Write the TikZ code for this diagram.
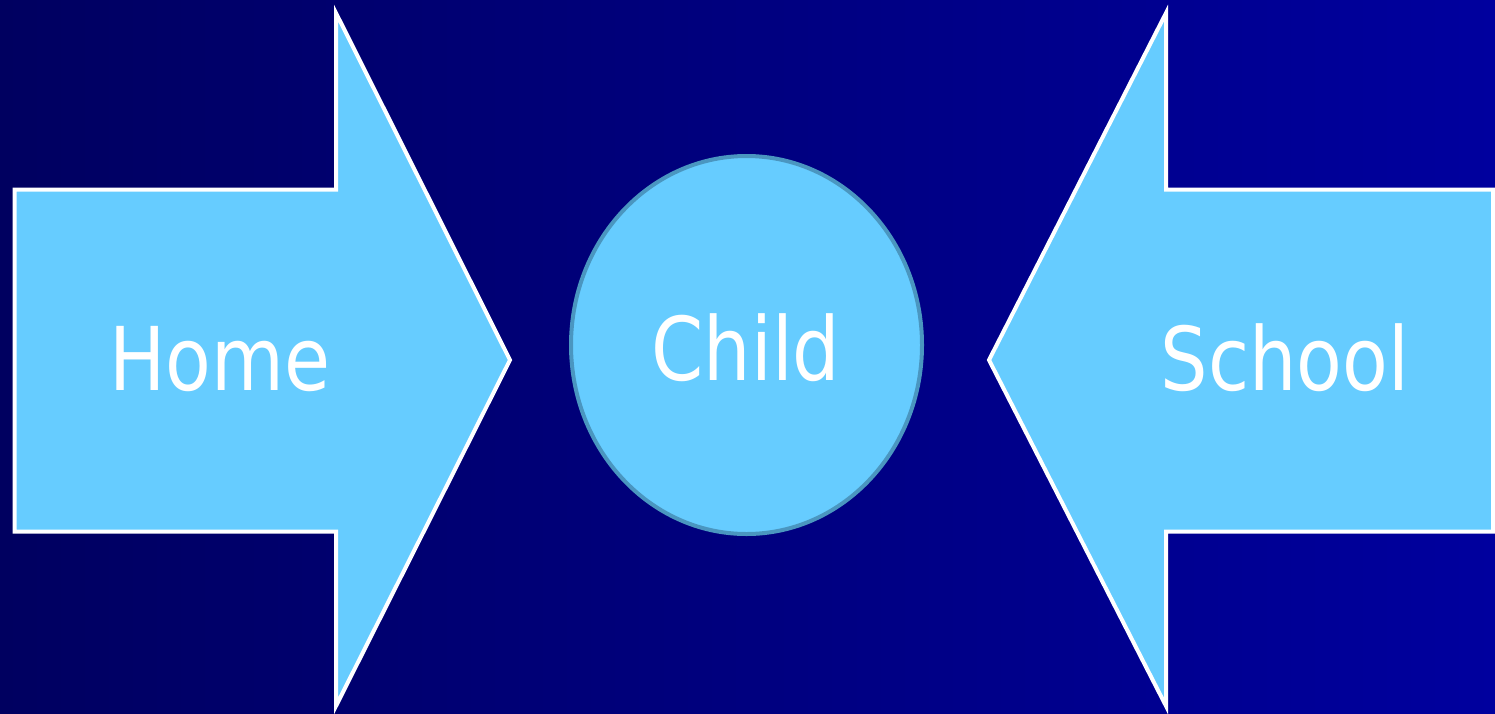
\documentclass[tikz,border=0pt]{standalone}
\usepackage{fontspec}
\newfontfamily\labfont[FakeStretch=0.85]{DejaVu Sans}
\definecolor{bgleft}{RGB}{0,0,96}
\definecolor{bgright}{RGB}{0,0,158}
\definecolor{arrowfill}{RGB}{102,204,255}
\definecolor{circline}{RGB}{74,150,192}
\tikzset{
  arrowshape/.style={fill=arrowfill, draw=white, line width=4pt, line join=miter},
  childshape/.style={fill=arrowfill, draw=circline, line width=4pt},
  lab/.style={text=white, font=\labfont\fontsize{88}{88}\selectfont, anchor=base, inner sep=0pt}
}
\begin{document}
\begin{tikzpicture}[x=1pt,y=-1pt]
\useasboundingbox (0,0) rectangle (1495,713);
\shade[left color=bgleft, right color=bgright] (0,0) rectangle (1495,713);
% left arrow
\draw[arrowshape] (14.5,189.5) -- (336,189.5) -- (336,13) -- (510,360) -- (336,706) -- (336,531.5) -- (14.5,531.5) -- cycle;
% right arrow
\draw[arrowshape] (1493,189.5) -- (1166,189.5) -- (1166,13) -- (989,360) -- (1166,706) -- (1166,531.5) -- (1493,531.5) -- cycle;
% circle
\draw[childshape] (746.5,345) ellipse [x radius=175.5, y radius=189];
\node[lab] (home) at (220,390) {Home};
\node[lab] (child) at (746,380) {Child};
\node[lab] (school) at (1285,390) {School};
\end{tikzpicture}
\end{document}
